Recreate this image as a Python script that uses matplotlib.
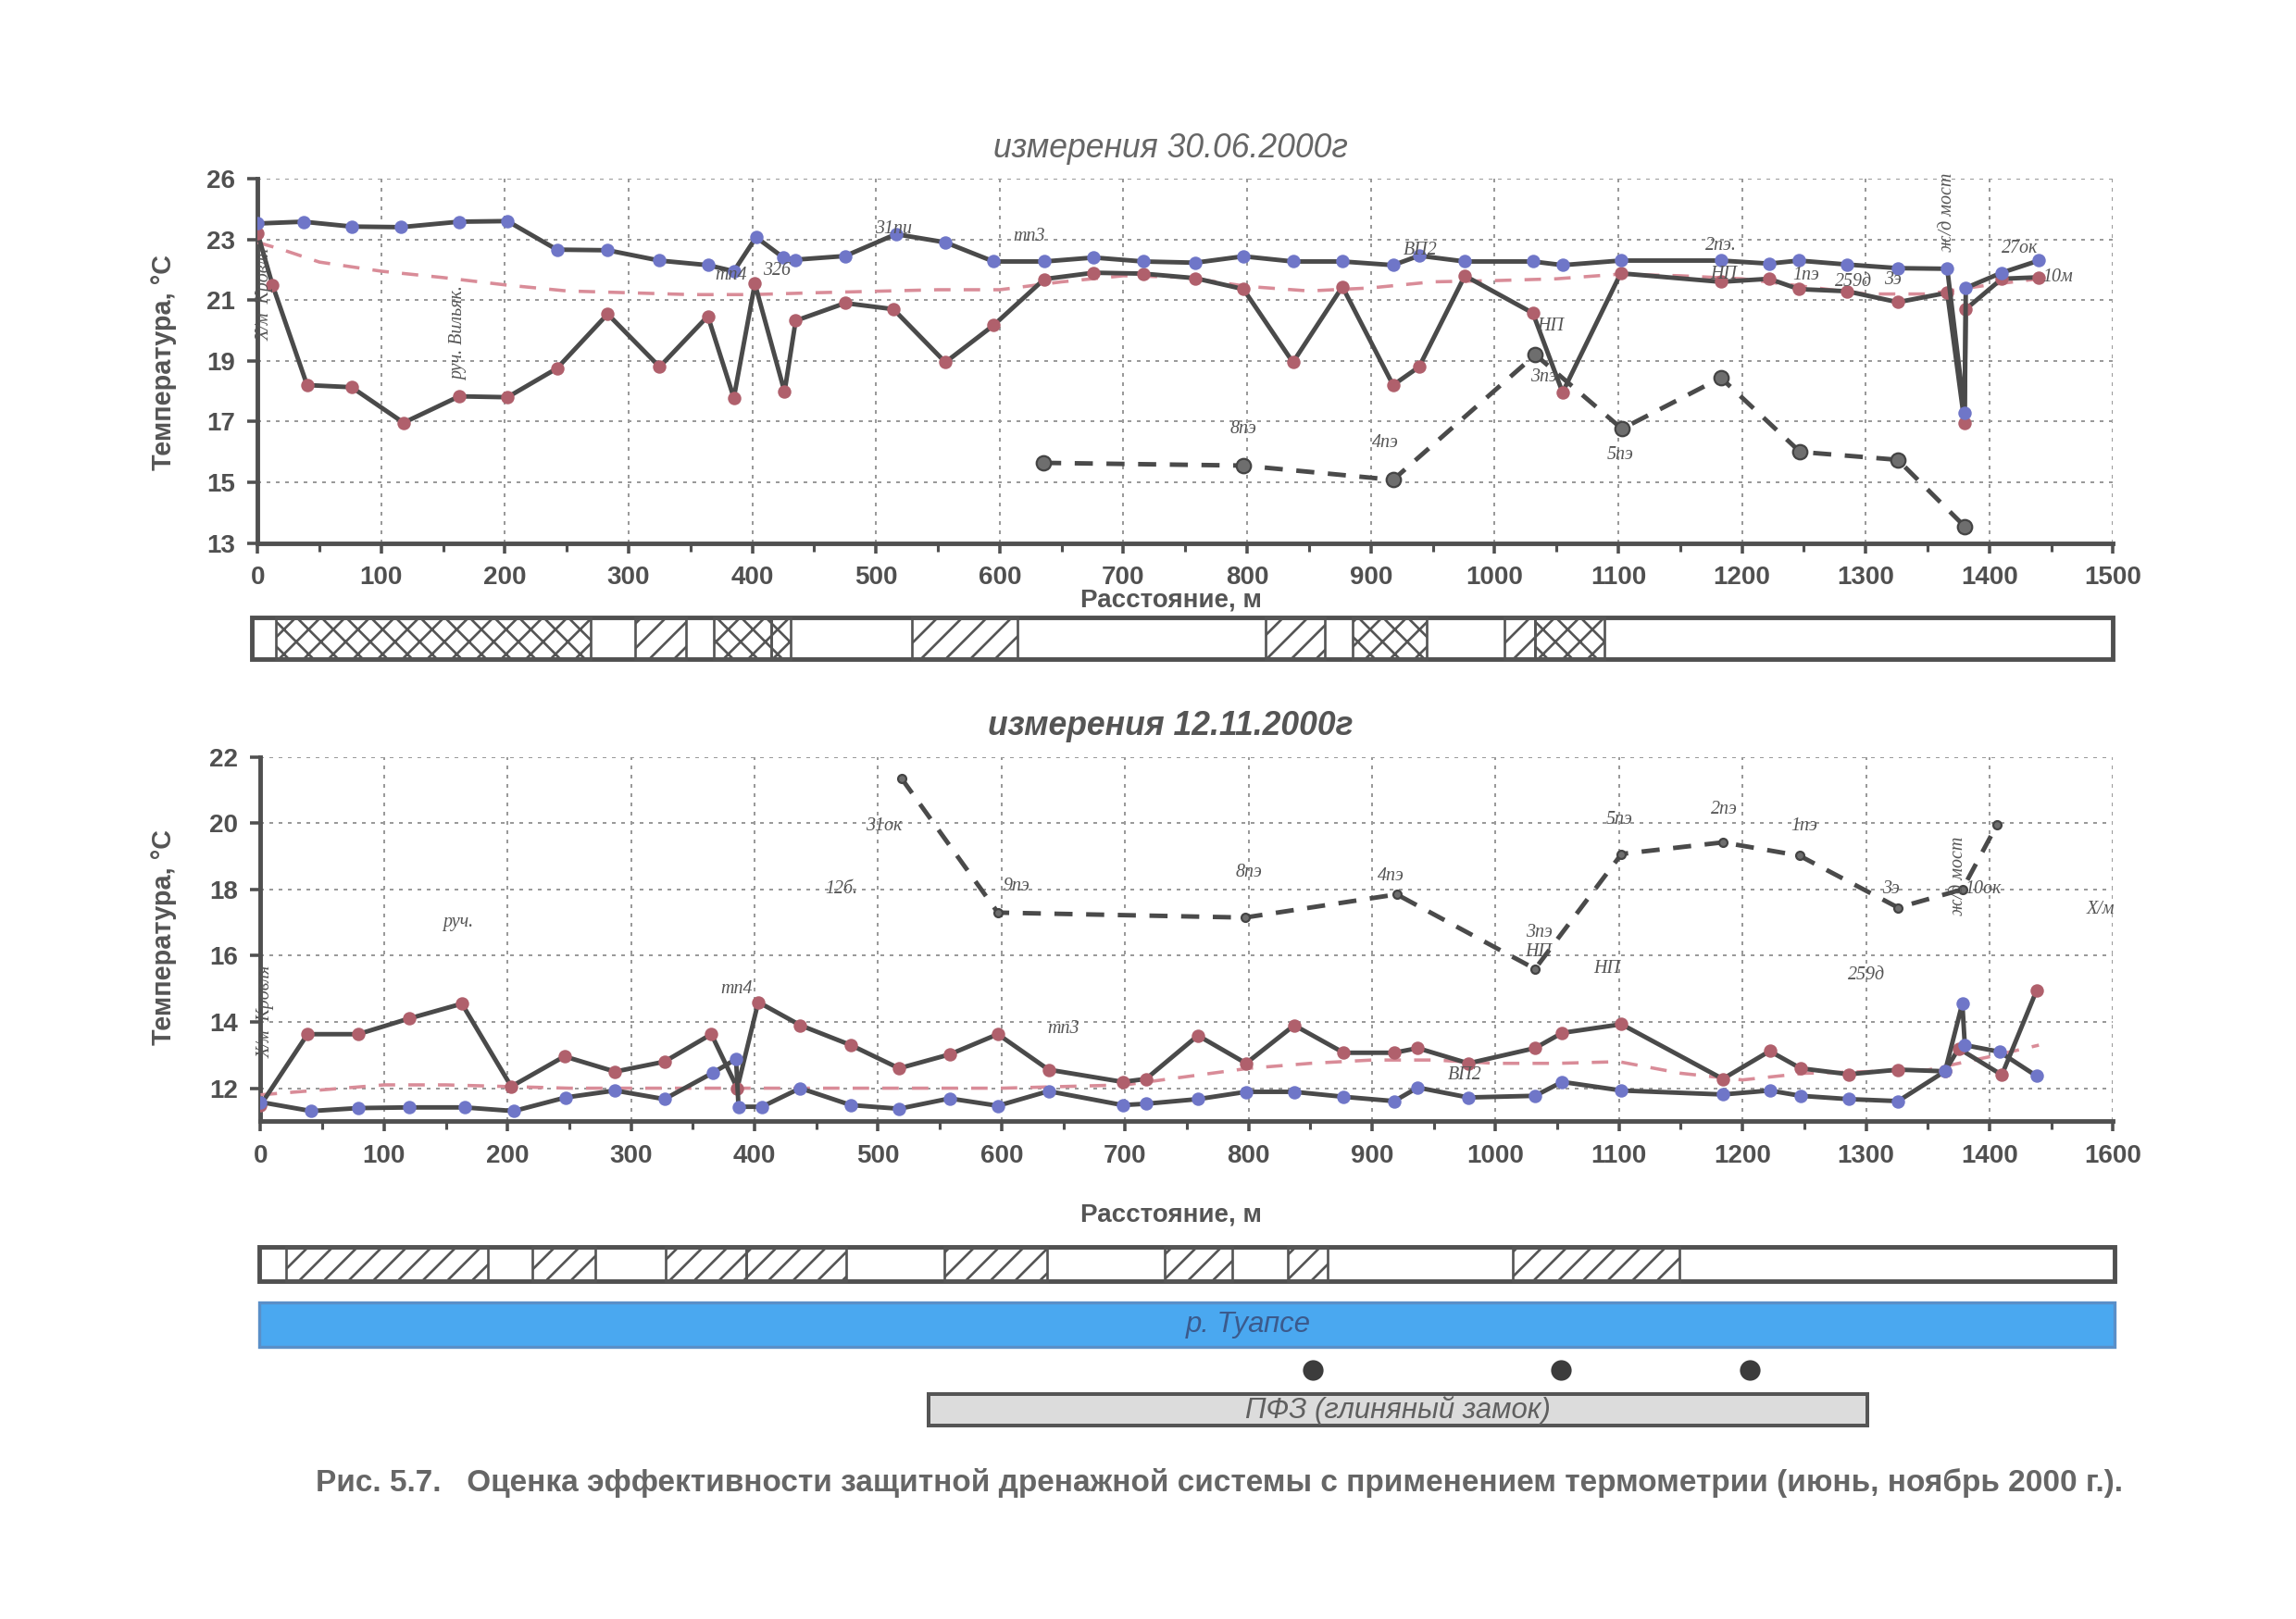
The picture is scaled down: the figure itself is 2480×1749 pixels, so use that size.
import matplotlib
matplotlib.use('Agg')
import matplotlib.pyplot as plt
from matplotlib.patches import Rectangle
from matplotlib.ticker import FixedLocator, MultipleLocator
from matplotlib.transforms import blended_transform_factory

plt.rcParams['font.family'] = ['Liberation Sans Narrow', 'Liberation Sans', 'DejaVu Sans']
plt.rcParams['hatch.linewidth'] = 1.2
plt.rcParams['hatch.color'] = '#555555'

# ---------------- data: 30.06.2000 ----------------
top_blue_x = [0, 37, 76, 116, 163, 202, 242, 283, 325, 364, 385, 403, 425, 435, 475, 516,
              556, 595, 636, 676, 716, 758, 797, 837, 877, 918, 939, 976, 1031, 1055, 1102,
              1183, 1222, 1246, 1285, 1326, 1366, 1380, 1381, 1410, 1440]
top_blue_y = [23.52, 23.58, 23.42, 23.40, 23.58, 23.60, 22.66, 22.64, 22.30, 22.15, 21.95,
              23.07, 22.40, 22.33, 22.45, 23.17, 22.90, 22.27, 22.27, 22.40, 22.27, 22.23,
              22.44, 22.27, 22.27, 22.15, 22.46, 22.27, 22.27, 22.15, 22.30, 22.30, 22.20,
              22.30, 22.17, 22.05, 22.03, 17.30, 21.40, 21.90, 22.30]

top_red_x = [0, 12, 40, 76, 118, 163, 202, 242, 283, 325, 364, 385, 402, 426, 435, 475, 514,
             556, 595, 636, 676, 716, 758, 797, 837, 877, 918, 939, 976, 1031, 1055, 1102,
             1183, 1222, 1246, 1285, 1326, 1366, 1380, 1381, 1410, 1440]
top_red_y = [23.2, 21.5, 18.2, 18.13, 16.96, 17.83, 17.8, 18.75, 20.54, 18.8, 20.47, 17.78,
             21.54, 17.98, 20.32, 20.9, 20.7, 18.95, 20.17, 21.69, 21.9, 21.87, 21.72, 21.36,
             18.95, 21.44, 18.2, 18.8, 21.8, 20.57, 17.96, 21.88, 21.6, 21.7, 21.36, 21.29,
             20.93, 21.24, 16.95, 20.7, 21.7, 21.75]

top_trend_x = [0, 20, 50, 100, 150, 200, 250, 300, 350, 400, 450, 500, 550, 600, 650, 700,
               750, 800, 850, 900, 950, 1000, 1050, 1100, 1150, 1200, 1250, 1300, 1350, 1400, 1440]
top_trend_y = [22.9, 22.66, 22.25, 21.95, 21.74, 21.5, 21.3, 21.24, 21.18, 21.18, 21.24, 21.29,
               21.34, 21.34, 21.6, 21.8, 21.75, 21.45, 21.3, 21.4, 21.6, 21.64, 21.7, 21.85,
               21.8, 21.7, 21.45, 21.2, 21.2, 21.5, 21.7]

top_well_x = [635, 797, 918, 1033, 1103, 1183, 1247, 1326, 1380]
top_well_y = [15.64, 15.55, 15.08, 19.2, 16.76, 18.44, 16.0, 15.74, 13.55]

top_labels = [("31пи", 514, 23.35), ("тп3", 624, 23.1), ("тп4", 383, 21.8), ("326", 420, 21.95),
              ("ВП2", 940, 22.65), ("2пэ.", 1183, 22.8), ("НП", 1185, 21.85), ("1пэ", 1252, 21.8),
              ("259д", 1290, 21.6), ("3э", 1322, 21.65), ("27ок", 1425, 22.7), ("10м", 1455, 21.75),
              ("НП", 1045, 20.15), ("3пэ", 1040, 18.45), ("8пэ", 797, 16.75), ("4пэ", 912, 16.3),
              ("5пэ", 1102, 15.9)]
top_vlabels = [("Х/м  Кровля", 6, 21.2), ("руч. Вильяк.", 163, 19.9), ("ж/д мост", 1366, 23.9)]

top_yticks = [13, 15, 17, 19, 21, 23, 25]
top_yticklabels = ['13', '15', '17', '19', '21', '23', '26']
top_xticks = [0, 100, 200, 300, 400, 500, 600, 700, 800, 900, 1000, 1100, 1200, 1300, 1400, 1500]
top_xticklabels = ['0', '100', '200', '300', '400', '500', '600', '700', '800', '900', '1000',
                   '1100', '1200', '1300', '1400', '1500']

top_blocks_start = [15, 305, 369, 415, 529, 815, 885, 1008, 1033]
top_blocks_end = [269, 346, 415, 431, 614, 863, 945, 1033, 1089]
top_blocks_hatch = ['xx', '//', 'xx', 'xx', '//', '//', 'xx', '//', 'xx']

# ---------------- data: 12.11.2000 ----------------
bot_red_x = [0, 38, 79, 120, 163, 203, 246, 287, 327, 365, 386, 403, 437, 478, 517, 558, 597,
             638, 698, 717, 759, 798, 837, 877, 918, 937, 978, 1032, 1054, 1102, 1184, 1222,
             1247, 1286, 1326, 1364, 1375, 1410, 1438]
bot_red_y = [11.49, 13.63, 13.63, 14.1, 14.55, 12.05, 12.96, 12.5, 12.8, 13.63, 12.0, 14.6,
             13.9, 13.3, 12.6, 13.02, 13.63, 12.56, 12.19, 12.28, 13.59, 12.75, 13.9, 13.07,
             13.07, 13.21, 12.75, 13.21, 13.67, 13.93, 12.28, 13.12, 12.6, 12.42, 12.56,
             12.51, 13.2, 12.4, 14.94]

bot_blue_x = [0, 41, 79, 120, 165, 205, 247, 287, 327, 366, 385, 387, 406, 437, 478, 517, 558,
              597, 638, 698, 717, 759, 798, 837, 877, 918, 937, 978, 1032, 1054, 1102, 1184,
              1222, 1247, 1286, 1326, 1364, 1378, 1380, 1408, 1438]
bot_blue_y = [11.58, 11.31, 11.4, 11.42, 11.42, 11.31, 11.72, 11.93, 11.67, 12.46, 12.88,
              11.44, 11.44, 12.0, 11.49, 11.38, 11.69, 11.47, 11.91, 11.49, 11.53, 11.67,
              11.89, 11.89, 11.74, 11.61, 12.02, 11.72, 11.77, 12.19, 11.93, 11.81, 11.93,
              11.77, 11.67, 11.61, 12.51, 14.56, 13.3, 13.1, 12.37]

bot_trend_x = [0, 50, 100, 150, 200, 250, 300, 350, 400, 450, 500, 550, 600, 650, 700, 750,
               800, 850, 900, 950, 1000, 1050, 1100, 1150, 1200, 1250, 1300, 1350, 1400, 1440]
bot_trend_y = [11.8, 11.95, 12.1, 12.1, 12.05, 12.0, 12.0, 12.0, 12.0, 12.0, 12.0, 12.0, 12.0,
               12.05, 12.1, 12.35, 12.6, 12.75, 12.85, 12.85, 12.75, 12.75, 12.8, 12.45, 12.25,
               12.45, 12.5, 12.55, 12.95, 13.3]

bot_well_x = [519, 597, 797, 920, 1032, 1102, 1184, 1246, 1326, 1378, 1406]
bot_well_y = [21.35, 17.3, 17.15, 17.85, 15.6, 19.07, 19.42, 19.02, 17.45, 18.0, 19.95]

bot_labels = [("31ок", 505, 19.9), ("12б.", 470, 18.0), ("9пэ", 612, 18.1), ("8пэ", 800, 18.5),
              ("4пэ", 915, 18.4), ("3пэ", 1035, 16.7), ("НП", 1035, 16.1), ("НП", 1090, 15.6),
              ("5пэ", 1100, 20.1), ("2пэ", 1185, 20.4), ("1пэ", 1250, 19.9), ("3э", 1320, 18.0),
              ("10ок", 1395, 18.0), ("Х/м", 1490, 17.4), ("259д", 1300, 15.4), ("руч.", 160, 17.0),
              ("тп4", 385, 15.0), ("тп3", 650, 13.8), ("ВП2", 975, 12.4)]
bot_vlabels = [("Х/м  Кровля", 4, 14.3), ("ж/д мост", 1375, 18.4)]

bot_yticks = [12, 14, 16, 18, 20, 22]
bot_yticklabels = ['12', '14', '16', '18', '20', '22']
bot_xticks = [0, 100, 200, 300, 400, 500, 600, 700, 800, 900, 1000, 1100, 1200, 1300, 1400, 1500]
bot_xticklabels = ['0', '100', '200', '300', '400', '500', '600', '700', '800', '900', '1000',
                   '1100', '1200', '1300', '1400', '1600']

bot_blocks_start = [21, 220, 328, 393, 554, 732, 832, 1014]
bot_blocks_end = [184, 271, 393, 474, 637, 787, 864, 1149]

river_start, river_end = -1, 1501
river_label = "р. Туапсе"
well_dots_x = [852, 1053, 1206]
pfz_start, pfz_end = 541, 1301
pfz_label = "ПФЗ (глиняный замок)"

caption = ("Рис. 5.7.   Оценка эффективности защитной дренажной системы с применением "
           "термометрии (июнь, ноябрь 2000 г.).")

# ---------------- styles ----------------
LINE = '#4a4a4a'
BLUE = '#6f76c8'
RED = '#b0606c'
TREND = '#d98c98'
GRAY_TXT = '#555555'
NARROW = ['Liberation Sans Narrow', 'Liberation Sans', 'DejaVu Sans']

fig = plt.figure(figsize=(15.5, 10.93125), dpi=160)
fig.patch.set_facecolor('white')


def style_axes(ax, xticks, xticklabels, yticks, yticklabels, ylim):
    ax.set_xlim(0, 1500)
    ax.set_ylim(*ylim)
    ax.xaxis.set_major_locator(FixedLocator(xticks))
    ax.set_xticklabels(xticklabels)
    ax.xaxis.set_minor_locator(MultipleLocator(50))
    ax.yaxis.set_major_locator(FixedLocator(yticks))
    ax.set_yticklabels(yticklabels)
    for s in ['top', 'right']:
        ax.spines[s].set_visible(False)
    for s in ['left', 'bottom']:
        ax.spines[s].set_color('#505050')
        ax.spines[s].set_linewidth(2.2)
    ax.grid(True, which='major', color='#9a9a9a', linestyle=(0, (2, 3)), linewidth=0.9)
    ax.tick_params(axis='both', which='major', length=5, width=1.6, color='#505050',
                   labelsize=12.5, labelcolor='#505050', pad=6)
    ax.tick_params(axis='x', which='minor', length=4, width=1.4, color='#505050')
    for lab in ax.get_xticklabels() + ax.get_yticklabels():
        lab.set_fontweight('bold')
        lab.set_family(NARROW)
    ax.set_axisbelow(True)


def draw_series(ax, bx, by, rx, ry, tx, ty, wx, wy, wms):
    ax.plot(tx, ty, color=TREND, linestyle=(0, (5, 4)), linewidth=1.6, zorder=3)
    ax.plot(rx, ry, color=LINE, linewidth=2.2, marker='o', markersize=5.5,
            markerfacecolor=RED, markeredgecolor=RED, zorder=4)
    ax.plot(bx, by, color=LINE, linewidth=2.2, marker='o', markersize=5.5,
            markerfacecolor=BLUE, markeredgecolor=BLUE, zorder=5)
    ax.plot(wx, wy, color=LINE, linestyle=(0, (4, 3)), linewidth=2.2, marker='o',
            markersize=wms, markerfacecolor='#6e6e6e', markeredgecolor='#444444', zorder=4)


def draw_labels(ax, labels, vlabels):
    for t, x, y in labels:
        ax.text(x, y, t, fontsize=9, style='italic', color=GRAY_TXT, ha='center',
                va='center', family=['Liberation Serif', 'DejaVu Serif'], zorder=6)
    for t, x, y in vlabels:
        ax.text(x, y, t, fontsize=9, style='italic', color=GRAY_TXT, ha='center',
                va='center', rotation=90, family=['Liberation Serif', 'DejaVu Serif'], zorder=6)


# ---------------- top chart ----------------
ax1 = fig.add_axes([0.1122, 0.6646, 0.8081, 0.2251])
style_axes(ax1, top_xticks, top_xticklabels, top_yticks, top_yticklabels, (13, 25))
draw_series(ax1, top_blue_x, top_blue_y, top_red_x, top_red_y, top_trend_x, top_trend_y,
            top_well_x, top_well_y, 7)
draw_labels(ax1, top_labels, top_vlabels)

fig.text(0.51, 0.908, "измерения 30.06.2000г", ha='center', va='center', fontsize=16,
         style='italic', color='#666666', family=['Liberation Sans', 'DejaVu Sans'])
fig.text(0.0714, 0.776, "Температура, °С", rotation=90, ha='center', va='center',
         fontsize=13, fontweight='bold', color='#555555', family=NARROW)
fig.text(0.51, 0.629, "Расстояние, м", ha='center', va='center', fontsize=12.5,
         fontweight='bold', color='#555555', family=NARROW)

# top strip
axs1 = fig.add_axes([0.1122, 0.55, 0.8081, 0.1])
axs1.set_xlim(0, 1500)
axs1.axis('off')
tr1 = blended_transform_factory(axs1.transData, fig.transFigure)
axs1.add_patch(Rectangle((-5, 0.5931), 1505, 0.0253, transform=tr1, facecolor='white',
                         edgecolor='#505050', linewidth=2.2, clip_on=False))
for s, e, h in zip(top_blocks_start, top_blocks_end, top_blocks_hatch):
    axs1.add_patch(Rectangle((s, 0.5931), e - s, 0.0253, transform=tr1, facecolor='none',
                             edgecolor='#555555', linewidth=1.2, hatch=h, clip_on=False))

# ---------------- bottom chart ----------------
ax2 = fig.add_axes([0.1135, 0.3074, 0.8068, 0.2251])
style_axes(ax2, bot_xticks, bot_xticklabels, bot_yticks, bot_yticklabels, (11, 22))
draw_series(ax2, bot_blue_x, bot_blue_y, bot_red_x, bot_red_y, bot_trend_x, bot_trend_y,
            bot_well_x, bot_well_y, 4)
draw_labels(ax2, bot_labels, bot_vlabels)

fig.text(0.51, 0.5515, "измерения 12.11.2000г", ha='center', va='center', fontsize=16,
         style='italic', fontweight='bold', color='#555555', family=['Liberation Sans', 'DejaVu Sans'])
fig.text(0.0714, 0.4213, "Температура, °С", rotation=90, ha='center', va='center',
         fontsize=13, fontweight='bold', color='#555555', family=NARROW)
fig.text(0.51, 0.2495, "Расстояние, м", ha='center', va='center', fontsize=12.5,
         fontweight='bold', color='#555555', family=NARROW)

# bottom strips
axs2 = fig.add_axes([0.1135, 0.05, 0.8068, 0.2])
axs2.set_xlim(0, 1500)
axs2.axis('off')
tr2 = blended_transform_factory(axs2.transData, fig.transFigure)
axs2.add_patch(Rectangle((-1, 0.2089), 1502, 0.0208, transform=tr2, facecolor='white',
                         edgecolor='#505050', linewidth=2.2, clip_on=False))
for s, e in zip(bot_blocks_start, bot_blocks_end):
    axs2.add_patch(Rectangle((s, 0.2089), e - s, 0.0208, transform=tr2, facecolor='none',
                             edgecolor='#555555', linewidth=1.2, hatch='//', clip_on=False))

axs2.add_patch(Rectangle((river_start, 0.1682), river_end - river_start, 0.0271, transform=tr2,
                         facecolor='#4aa8f0', edgecolor='#5a8fc8', linewidth=1.5, clip_on=False))
axs2.text((river_start + river_end) / 2 + 50, 0.1817, river_label, transform=tr2, ha='center',
          va='center', fontsize=14, style='italic', color='#3b5a8c', family=NARROW)

axs2.plot(well_dots_x, [0.1537] * len(well_dots_x), transform=tr2, linestyle='none',
          marker='o', markersize=9, color='#3c3c3c', clip_on=False)

axs2.add_patch(Rectangle((pfz_start, 0.1193), pfz_end - pfz_start, 0.0199, transform=tr2,
                         facecolor='#dcdcdc', edgecolor='#555555', linewidth=1.8, clip_on=False))
axs2.text((pfz_start + pfz_end) / 2, 0.1292, pfz_label, transform=tr2, ha='center',
          va='center', fontsize=14, style='italic', color='#606060', family=NARROW)

fig.text(0.531, 0.084, caption, ha='center', va='center', fontsize=15, fontweight='bold',
         color='#666666', family=['Liberation Sans', 'DejaVu Sans'])

fig.savefig('out.png', dpi=160, facecolor='white')
